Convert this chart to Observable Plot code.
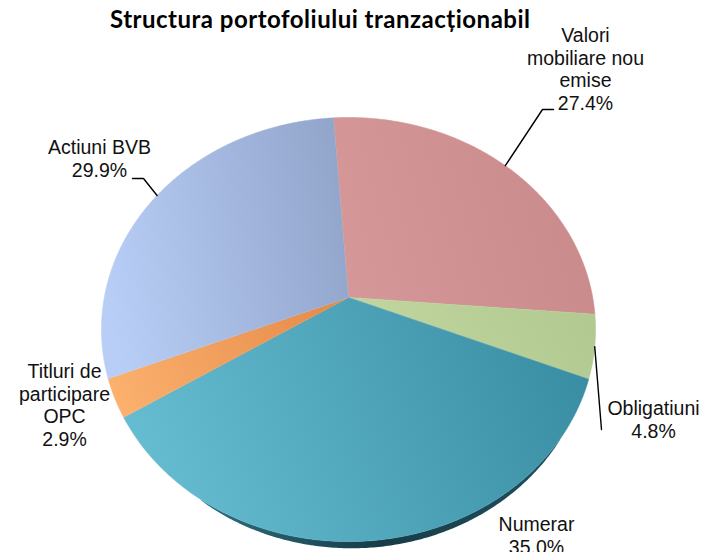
<!DOCTYPE html>
<html><head><meta charset="utf-8">
<script src="https://cdn.jsdelivr.net/npm/d3@7"></script>
<script src="https://cdn.jsdelivr.net/npm/@observablehq/plot@0.6"></script>
<style>
body{margin:0;background:#fff;width:705px;height:552px;overflow:hidden}
svg{display:block}
</style></head><body>
<svg id="title" width="705" height="34"><text x="320" y="28" text-anchor="middle" font-family="Lato, 'Open Sans', sans-serif" font-weight="700" font-size="24" textLength="420" lengthAdjust="spacing" fill="#000">Structura portofoliului tranzacționabil</text></svg>
<div id="chart"></div>
<script>
// ---- data ----
const categories = ["Valori mobiliare nou emise", "Obligatiuni", "Numerar", "Titluri de participare OPC", "Actiuni BVB"];
const values = [27.4, 4.8, 35.0, 2.9, 29.9];
const labelLines = [["Valori", "mobiliare nou", "emise"], ["Obligatiuni"], ["Numerar"], ["Titluri de", "participare", "OPC"], ["Actiuni BVB"]];
const valueLabels = ["27.4%", "4.8%", "35.0%", "2.9%", "29.9%"];

// ---- styles / layout ----
const gradColors = [
  ["#d69799", "#c98a8b"],
  ["#c3d7a1", "#b2c991"],
  ["#67bdd1", "#398ea4"],
  ["#fbb06d", "#e68b4a"],
  ["#b9cef6", "#92a6cc"]
];
const geom = {cx: 348, cy: 297, A: 244.2, B: 207.2, k: 0.151, start: -4.05, depth: 7};
const labelPos = [[585, 109], [653, 437], [536, 553], [64, 445], [99, 176]];
const leaderPts = {0: [[542, 109], [553, 109]], 4: [[143, 178], [132, 178]], 1: [[601, 429]]};

function proj(deg) {
  const t = deg * Math.PI / 180, u = Math.sin(t), v = Math.cos(t), w = 1 + geom.k * v;
  return {x: geom.cx + geom.A * u / w, y: geom.cy - geom.B * v / w};
}

const total = d3.sum(values);
let cum = 0;
const slices = values.map((v, i) => {
  const a0 = geom.start + 360 * cum / total;
  cum += v;
  const a1 = geom.start + 360 * cum / total;
  return {i, name: categories[i], a0, a1, mid: (a0 + a1) / 2};
});

const marks = [];
// front rim (depth) of the Numerar slice
{
  const r0 = 128, r1 = 212;
  const pts = [];
  for (let a = r0; a <= r1; a += 0.5) pts.push(proj(a));
  for (let a = r1; a >= r0; a -= 0.5) {
    const p = proj(a);
    const d = geom.depth * Math.pow(Math.sin(Math.PI * (a - r0) / (r1 - r0)), 0.6);
    pts.push({x: p.x, y: p.y + d});
  }
  marks.push(Plot.line(pts, {x: "x", y: "y", fill: "url(#side)", stroke: "none"}));
}
slices.forEach((s, i) => {
  const pts = [{x: geom.cx, y: geom.cy}];
  for (let a = s.a0; a < s.a1; a += 0.5) pts.push(proj(a));
  pts.push(proj(s.a1));
  marks.push(Plot.line(pts, {x: "x", y: "y", fill: `url(#g${i})`, stroke: `url(#g${i})`, strokeWidth: 0.6}));
});
// leader lines
const leaders = [];
Object.entries(leaderPts).forEach(([i, pts]) => {
  const s = slices[+i];
  const p = proj(s.mid);
  leaders.push({k: i, x: p.x, y: p.y});
  pts.forEach(([x, y]) => leaders.push({k: i, x, y}));
});
marks.push(Plot.line(leaders, {x: "x", y: "y", z: "k", stroke: "#000", strokeWidth: 1.4}));
// labels
const labels = slices.map((s, i) => ({x: labelPos[i][0], y: labelPos[i][1], text: [...labelLines[i], valueLabels[i]].join("\n")}));
marks.push(Plot.text(labels, {x: "x", y: "y", text: "text", textAnchor: "middle", lineAnchor: "bottom", lineHeight: 1.154, fontSize: 19.5, fontFamily: "'Liberation Sans', Arial, sans-serif", fill: "#111"}));

const svg = Plot.plot({
  width: 705, height: 518, margin: 0,
  x: {domain: [0, 705], range: [0, 705], axis: null},
  y: {domain: [34, 552], range: [0, 518], axis: null},
  style: {overflow: "visible", background: "transparent"},
  marks
});
const defs = d3.select(svg).insert("defs", ":first-child");
gradColors.forEach(([c0, c1], i) => {
  const g = defs.append("linearGradient").attr("id", `g${i}`).attr("x1", 0).attr("y1", 0.6).attr("x2", 1).attr("y2", 0.4);
  g.append("stop").attr("offset", 0).attr("stop-color", c0);
  g.append("stop").attr("offset", 1).attr("stop-color", c1);
});
const sg = defs.append("linearGradient").attr("id", "side").attr("x1", 0).attr("y1", 0).attr("x2", 1).attr("y2", 0);
[["0", "#2f6f80"], ["0.5", "#173c48"], ["1", "#21505e"]].forEach(([o, c]) => sg.append("stop").attr("offset", o).attr("stop-color", c));
document.getElementById("chart").appendChild(svg);
</script>
</body></html>
